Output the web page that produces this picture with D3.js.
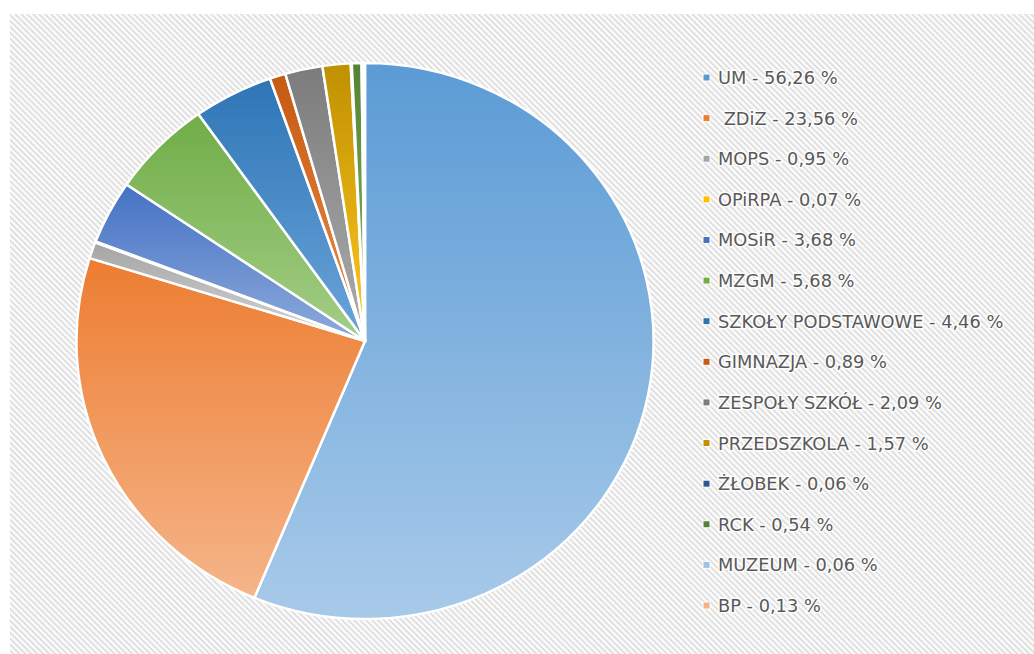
<html>
<head>
    <meta charset="utf-8">
    <script src="https://d3js.org/d3.v7.min.js"></script>
    <style type="text/css">
        body { margin: 0; background: #ffffff; }
        text.legend {
            font-family: "DejaVu Sans", sans-serif;
            font-size: 17.8px;
            fill: #595959;
            stroke: #ffffff;
            stroke-width: 3px;
            stroke-opacity: 0.85;
            paint-order: stroke;
            white-space: pre;
        }
    </style>
</head>

<body>
    <svg></svg>

    <script>
        const Width = 1034, Height = 654;

        // data
        const names = ["UM", " ZDiZ", "MOPS", "OPiRPA", "MOSiR", "MZGM", "SZKOŁY PODSTAWOWE",
            "GIMNAZJA", "ZESPOŁY SZKÓŁ", "PRZEDSZKOLA", "ŻŁOBEK", "RCK", "MUZEUM", "BP"];
        const values = [56.26, 23.56, 0.95, 0.07, 3.68, 5.68, 4.46, 0.89, 2.09, 1.57, 0.06, 0.54, 0.06, 0.13];
        const labels = ["56,26 %", "23,56 %", "0,95 %", "0,07 %", "3,68 %", "5,68 %", "4,46 %",
            "0,89 %", "2,09 %", "1,57 %", "0,06 %", "0,54 %", "0,06 %", "0,13 %"];
        const colors = ["#5B9BD5", "#ED7D31", "#A5A5A5", "#FFC000", "#4472C4", "#70AD47", "#2E75B6",
            "#C55A11", "#7C7C7C", "#BF9000", "#2F5597", "#548235", "#9DC3E6", "#F4B183"];

        const Cx = 365, Cy = 341, R = 278, Sx = 1.038;

        var svg = d3.select("svg")
            .attr("width", Width).attr("height", Height);

        var defs = svg.append("defs");

        // hatched background
        var pat = defs.append("pattern")
            .attr("id", "hatch")
            .attr("patternUnits", "userSpaceOnUse")
            .attr("width", 4.2).attr("height", 4.2)
            .attr("patternTransform", "rotate(-45)");
        pat.append("rect").attr("width", 4.2).attr("height", 4.2).attr("fill", "#fafafa");
        pat.append("rect").attr("width", 1.7).attr("height", 4.2).attr("fill", "#dedede");

        svg.append("rect")
            .attr("x", 10).attr("y", 14)
            .attr("width", Width - 10).attr("height", Height - 14)
            .attr("fill", "url(#hatch)");

        // per slice gradients, darker on top
        colors.forEach(function(c, i)
        {
            let top = d3.hsl(c);
            let bot = d3.hsl(c);
            bot.l = Math.min(0.9, bot.l + 0.19);
            let g = defs.append("linearGradient")
                .attr("id", "grad" + i)
                .attr("x1", 0).attr("y1", 0).attr("x2", 0).attr("y2", 1);
            g.append("stop").attr("offset", "0%").attr("stop-color", top.formatHex());
            g.append("stop").attr("offset", "100%").attr("stop-color", bot.formatHex());
        });

        var pie = d3.pie().sort(null).value((d) => d)(values);
        var arc = d3.arc().innerRadius(0).outerRadius(R);

        var g = svg.append("g")
            .attr("transform", "translate(" + Cx + " " + Cy + ") scale(" + Sx + " 1)");

        g.selectAll("path.slice")
            .data(pie)
            .enter()
            .append("path").classed("slice", true)
                .attr("d", arc)
                .attr("fill", (d, i) => "url(#grad" + i + ")")
                .attr("stroke", "#ffffff")
                .attr("stroke-width", 2.4)
                .attr("stroke-linejoin", "round");

        // legend
        var y = d3.scalePoint().domain(d3.range(names.length)).range([78, 606]);

        var items = svg.selectAll("g.item")
            .data(names)
            .enter()
            .append("g").classed("item", true)
                .attr("transform", (d, i) => "translate(0 " + y(i) + ")");

        items.append("rect")
            .attr("x", 703).attr("y", -4)
            .attr("width", 7).attr("height", 7)
            .attr("fill", (d, i) => colors[i])
            .attr("stroke", "#ffffff").attr("stroke-width", 1);

        items.append("text").classed("legend", true)
            .attr("x", 718).attr("y", 6)
            .text((d, i) => d + " - " + labels[i]);
    </script>
</body>

</html>
